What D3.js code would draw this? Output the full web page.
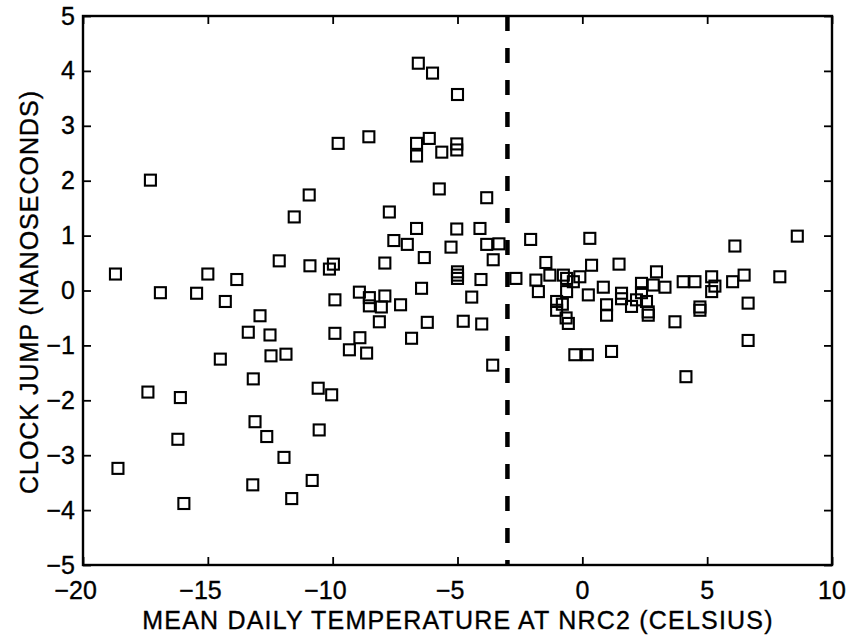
<!DOCTYPE html>
<html>
<head>
<meta charset="utf-8">
<script src="https://cdn.jsdelivr.net/npm/d3@7"></script>
<style>
  body { margin: 0; background: #fff; }
  svg { display: block; font-family: "Liberation Sans", Arial, sans-serif; }
  text { fill: #000; stroke: #000; stroke-width: 0.35px; }
</style>
</head>
<body>
<div id="chart"></div>
<script>
// Mean daily temperature (x) and clock jump (y) pairs
const tempC = [
  -18.7, -18.6, -17.3, -17.4, -16.9, -16.2, -16.1, -15.96, -15.45, -15.0,
  -14.5, -14.3, -13.84, -13.38, -13.2, -13.18, -13.11, -12.91, -12.64, -12.51,
  -12.47, -12.14, -11.95, -11.87, -11.64, -11.54, -10.94, -10.91, -10.82, -10.58,
  -10.54, -10.13, -10.04, -9.97, -9.91, -9.91, -9.78, -9.33, -8.93, -8.91,
  -8.64, -8.55, -8.53, -8.53, -8.13, -8.05, -7.91, -7.91, -7.73, -7.55,
  -7.28, -7.01, -6.84, -6.64, -6.64, -6.64, -6.57, -6.44, -6.33, -6.21,
  -6.13, -6.0, -5.73, -5.63, -5.26, -5.03, -5.03, -5.03, -5.0, -5.0,
  -5.0, -5.0, -4.77, -4.43, -4.10, -4.06, -4.03, -3.83, -3.83, -3.59,
  -3.57, -3.34,
  -2.66, -2.07, -1.86, -1.76, -1.46, -1.30, -1.03, -1.03, -0.76, -0.80,
  -0.63, -0.63, -0.56, -0.65, -0.36, -0.30, -0.10, 0.20, 0.24, 0.30,
  0.37, 0.84, 0.97, 0.97, 1.17, 1.47, 1.57, 1.57, 1.97, 2.17,
  2.37, 2.37, 2.57, 2.64, 2.64, 2.84, 2.97, 3.31, 3.71, 4.04,
  4.15, 4.51, 4.71, 4.71, 5.18, 5.31, 5.18, 6.02, 6.11, 6.48,
  6.64, 6.64, 7.91, 8.61
];
const jumpNs = [
  0.30, -3.24, 2.01, -1.85, -0.04, -2.71, -1.95, -3.88, -0.05, 0.30,
  -1.25, -0.20, 0.20, -0.76, -3.54, -1.61, -2.39, -0.46, -2.66, -0.81,
  -1.19, 0.54, -3.04, -1.16, -3.79, 1.34, 1.74, 0.45, -3.46, -1.78,
  -2.54, 0.39, -1.90, 0.48, -0.17, -0.78, 2.68, -1.08, -0.03, -0.86,
  -1.14, 2.80, -0.13, -0.28, -0.57, -0.30, 0.50, -0.10, 1.43, 0.91,
  -0.26, 0.84, -0.87, 2.68, 2.45, 1.13, 4.14, 0.04, 0.60, -0.58,
  2.77, 3.96, 1.85, 2.52, 0.79, 2.67, 2.56, 1.12, 3.57, 0.34,
  0.28, 0.22, -0.56, -0.12, 1.13, 0.20, -0.61, 1.69, 0.84, -1.36,
  0.56, 0.85,
  0.22, 0.93, 0.19, -0.02, 0.51, 0.28, -0.20, -0.36, 0.28, -0.25,
  0.22, -0.02, -0.60, -0.50, 0.16, -1.17, 0.25, -1.17, -0.08, 0.95,
  0.46, 0.06, -0.26, -0.45, -1.11, 0.48, -0.05, -0.15, -0.29, -0.17,
  0.13, -0.04, -0.20, -0.39, -0.45, 0.10, 0.34, 0.06, -0.57, 0.16,
  -1.57, 0.16, -0.30, -0.36, 0.25, 0.08, -0.02, 0.16, 0.81, 0.28,
  -0.23, -0.91, 0.25, 0.99
];
const xTicks = [-20, -15, -10, -5, 0, 5, 10];
const yTicks = [-5, -4, -3, -2, -1, 0, 1, 2, 3, 4, 5];
const threshold = -3;
const xTitle = "MEAN DAILY TEMPERATURE AT NRC2 (CELSIUS)";
const yTitle = "CLOCK JUMP (NANOSECONDS)";

const width = 851, height = 635;
const margin = {top: 16, right: 19, bottom: 70, left: 83};
const plotW = width - margin.left - margin.right;
const plotH = height - margin.top - margin.bottom;

const svg = d3.select("#chart").append("svg")
  .attr("width", width)
  .attr("height", height);

const g = svg.append("g")
  .attr("transform", "translate(" + margin.left + "," + margin.top + ")");

const x = d3.scaleLinear().domain([-20, 10]).range([0, plotW]);
const y = d3.scaleLinear().domain([-5, 5]).range([plotH, 0]);

const tickLen = 8;
const fontSize = 25;

// inward ticks on all four sides (MATLAB box style)
const axB = g.append("g").attr("transform", "translate(0," + plotH + ")")
  .call(d3.axisBottom(x).tickValues(xTicks).tickSize(-tickLen).tickFormat(""));
const axT = g.append("g")
  .call(d3.axisTop(x).tickValues(xTicks).tickSize(-tickLen).tickFormat(""));
const axL = g.append("g")
  .call(d3.axisLeft(y).tickValues(yTicks).tickSize(-tickLen).tickFormat(""));
const axR = g.append("g").attr("transform", "translate(" + plotW + ",0)")
  .call(d3.axisRight(y).tickValues(yTicks).tickSize(-tickLen).tickFormat(""));

[axB, axT, axL, axR].forEach(a => {
  a.select(".domain").remove();
  a.selectAll(".tick line").attr("stroke", "#000").attr("stroke-width", 1.8);
});

// frame
g.append("rect")
  .attr("x", 0).attr("y", 0)
  .attr("width", plotW).attr("height", plotH)
  .attr("fill", "none")
  .attr("stroke", "#000")
  .attr("stroke-width", 2.4);

// x tick labels: digits centred on the tick, minus hanging to the left
const xl = g.append("g").attr("font-size", fontSize);
xTicks.forEach(t => {
  const txt = xl.append("text")
    .attr("x", x(t))
    .attr("y", plotH + 34)
    .attr("text-anchor", "middle")
    .text(Math.abs(t));
  if (t < 0) {
    const w = txt.node().getComputedTextLength();
    xl.append("text")
      .attr("x", x(t) - w / 2)
      .attr("y", plotH + 34)
      .attr("text-anchor", "end")
      .text("\u2212");
  }
});

// y tick labels
g.append("g").attr("font-size", fontSize)
  .selectAll("text")
  .data(yTicks)
  .enter()
  .append("text")
  .attr("x", -8)
  .attr("y", d => y(d))
  .attr("dy", "0.34em")
  .attr("text-anchor", "end")
  .text(d => d < 0 ? "\u2212" + Math.abs(d) : d);

// dashed threshold line
g.append("line")
  .attr("x1", x(threshold)).attr("x2", x(threshold))
  .attr("y1", y(5)).attr("y2", y(-5))
  .attr("stroke", "#000")
  .attr("stroke-width", 4.5)
  .attr("stroke-dasharray", "15,17");

// square markers
const side = 11;
g.append("g")
  .selectAll("rect")
  .data(tempC.map((t, i) => ({t: t, j: jumpNs[i]})))
  .enter()
  .append("rect")
  .attr("x", d => x(d.t) - side / 2)
  .attr("y", d => y(d.j) - side / 2)
  .attr("width", side)
  .attr("height", side)
  .attr("fill", "none")
  .attr("stroke", "#000")
  .attr("stroke-width", 2.1);

// axis titles
svg.append("text")
  .attr("x", 458)
  .attr("y", 629)
  .attr("text-anchor", "middle")
  .attr("font-size", fontSize)
  .attr("letter-spacing", 1.2)
  .text(xTitle);

svg.append("text")
  .attr("transform", "translate(38,292) rotate(-90)")
  .attr("text-anchor", "middle")
  .attr("font-size", fontSize)
  .attr("letter-spacing", 1)
  .text(yTitle);
</script>
</body>
</html>
